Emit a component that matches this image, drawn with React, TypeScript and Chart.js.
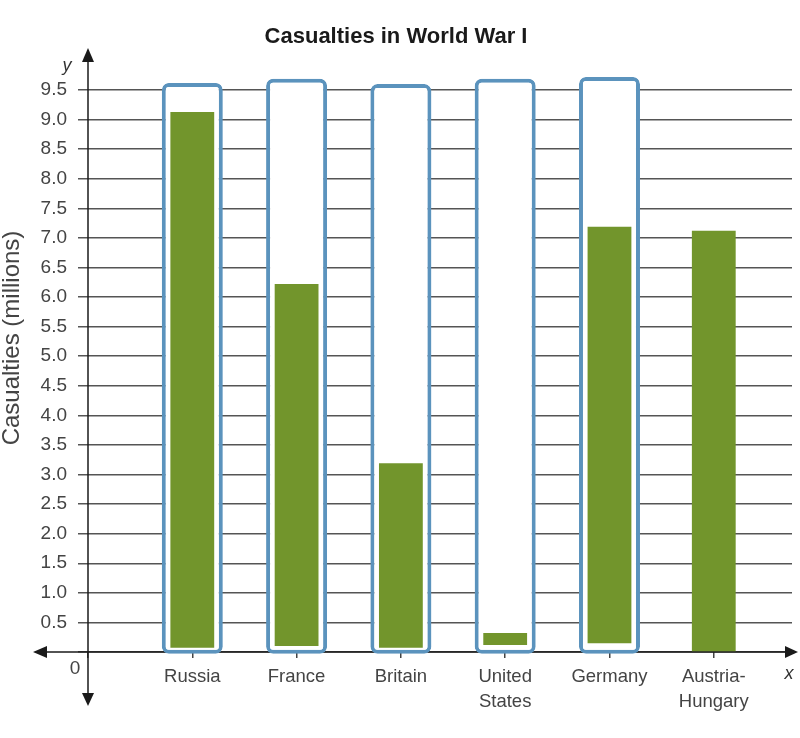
import React, { useEffect, useRef } from "react";
import { Chart, registerables } from "chart.js";

Chart.register(...registerables);

const categories = ["Russia", "France", "Britain", "United States", "Germany", "Austria-Hungary"];
const tickLines = [["Russia"], ["France"], ["Britain"], ["United", "States"], ["Germany"], ["Austria-", "Hungary"]];
const casualties = [9.13, 6.22, 3.19, 0.32, 7.19, 7.12];
const barStart = [0.07, 0.1, 0.07, 0.12, 0.15, 0];
const highlightTop = [9.62, 9.69, 9.6, 9.69, 9.72, null];
const highlightBottom = [-0.03, -0.03, -0.03, -0.03, -0.03, null];
const yMin = 0;
const yMax = 9.5;
const yStep = 0.5;
const xMax = 6.75;

const FONT = "'Liberation Sans', Arial, Helvetica, sans-serif";

const axesPlugin = {
  id: "arrowAxes",
  beforeDatasetsDraw(chart: any) {
    const { ctx, chartArea, scales } = chart;
    const x0 = chartArea.left;
    const y0 = scales.y.getPixelForValue(0);
    ctx.save();
    ctx.strokeStyle = "#1a1a1a";
    ctx.fillStyle = "#1a1a1a";
    ctx.lineWidth = 1.5;
    ctx.beginPath();
    ctx.moveTo(x0, 58);
    ctx.lineTo(x0, 698);
    ctx.stroke();
    ctx.beginPath();
    ctx.moveTo(42, y0);
    ctx.lineTo(790, y0);
    ctx.stroke();
    const tri = (a: number[], b: number[], c: number[]) => {
      ctx.beginPath();
      ctx.moveTo(a[0], a[1]);
      ctx.lineTo(b[0], b[1]);
      ctx.lineTo(c[0], c[1]);
      ctx.closePath();
      ctx.fill();
    };
    tri([x0, 48], [x0 - 6, 62], [x0 + 6, 62]);
    tri([x0, 706], [x0 - 6, 693], [x0 + 6, 693]);
    tri([33, y0], [47, y0 - 6], [47, y0 + 6]);
    tri([798, y0], [785, y0 - 6], [785, y0 + 6]);
    ctx.restore();
  },
  afterDraw(chart: any) {
    const { ctx, chartArea, scales } = chart;
    const y0 = scales.y.getPixelForValue(0);
    ctx.save();
    ctx.fillStyle = "#333";
    ctx.textAlign = "center";
    ctx.textBaseline = "middle";
    ctx.font = `italic 18px ${FONT}`;
    ctx.fillText("y", chartArea.left - 21, 66);
    ctx.fillText("x", 789, y0 + 22);
    ctx.font = `19px ${FONT}`;
    ctx.fillStyle = "#444";
    ctx.fillText("0", chartArea.left - 13, y0 + 17);
    ctx.translate(12, 338);
    ctx.rotate(-Math.PI / 2);
    ctx.font = `24px ${FONT}`;
    ctx.fillText("Casualties (millions)", 0, 0);
    ctx.restore();
  },
};

export default function App() {
  const ref = useRef<HTMLCanvasElement | null>(null);
  useEffect(() => {
    if (!ref.current) return;
    const chart = new Chart(ref.current, {
      type: "bar",
      data: {
        datasets: [
          {
            label: "Casualties",
            data: casualties.map((v, i) => ({ x: i + 1, y: [barStart[i], v] })) as any,
            backgroundColor: "#72952c",
            borderWidth: 0,
            grouped: false,
            categoryPercentage: 1,
            barPercentage: 0.42,
            order: 0,
          } as any,
          {
            label: "Highlight",
            data: highlightTop
              .map((v, i) => (v === null ? null : { x: i + 1, y: [highlightBottom[i], v] }))
              .filter((d) => d !== null) as any,
            backgroundColor: "#ffffff",
            borderColor: "#5b93bd",
            borderWidth: 4,
            borderRadius: 7,
            borderSkipped: false,
            grouped: false,
            categoryPercentage: 1,
            barPercentage: 0.585,
            clip: false,
            order: 1,
          } as any,
        ],
      },
      options: {
        responsive: false,
        animation: false,
        layout: { padding: { left: 0, right: 8, top: 0, bottom: 0 } },
        plugins: {
          legend: { display: false },
          tooltip: { enabled: false },
          title: {
            display: true,
            text: "Casualties in World War I",
            color: "#1a1a1a",
            font: { family: FONT, size: 22, weight: "bold", lineHeight: 1.2 },
            padding: { top: 24, bottom: 39.6 },
          },
        },
        scales: {
          x: {
            type: "linear",
            offset: false,
            min: 0,
            max: xMax,
            afterFit: (s: any) => {
              s.height = 86;
            },
            grid: { offset: false, drawOnChartArea: false, drawTicks: true, tickLength: 6, color: "#444", lineWidth: 1.5 },
            border: { display: false },
            ticks: {
              stepSize: 1,
              includeBounds: false,
              autoSkip: false,
              maxRotation: 0,
              padding: 6,
              color: "#444",
              font: { family: FONT, size: 18.5, lineHeight: 1.35 },
              callback: (v: any) => {
                const i = Math.round(Number(v)) - 1;
                return i >= 0 && i < tickLines.length ? tickLines[i] : "";
              },
            },
          },
          y: {
            min: yMin,
            max: yMax,
            afterFit: (s: any) => {
              s.width = 88;
            },
            grid: { drawTicks: true, tickLength: 10, color: "#555", lineWidth: 1.5 },
            border: { display: false },
            ticks: {
              stepSize: yStep,
              padding: 11,
              color: "#444",
              font: { family: FONT, size: 19 },
              callback: (v: any) => (Number(v) === 0 ? "" : Number(v).toFixed(1)),
            },
          },
        },
      } as any,
      plugins: [axesPlugin],
    });
    return () => chart.destroy();
  }, []);
  return (
    <div style={{ position: "absolute", left: 0, top: 0, width: 800, height: 738, background: "#fff" }}>
      <canvas ref={ref} width={800} height={738} style={{ display: "block" }} aria-label={categories.join(", ")} />
    </div>
  );
}
